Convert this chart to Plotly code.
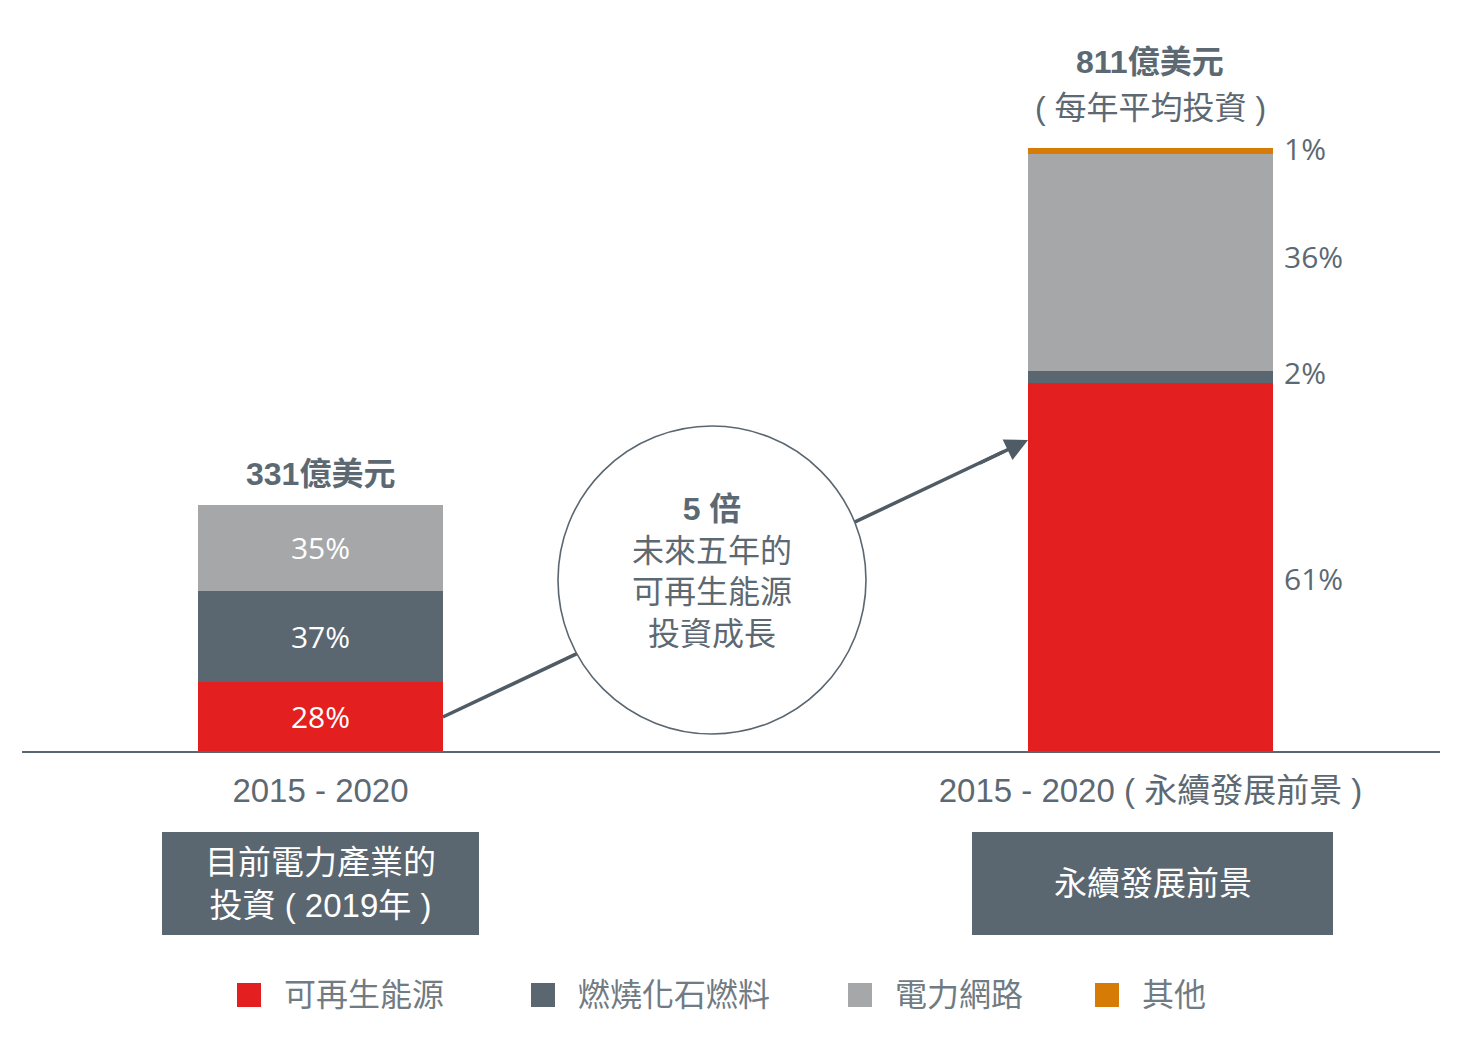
import plotly.graph_objects as go

# ---------------- data ----------------
periods = ["2015 - 2020", "2015 - 2020 ( 永續發展前景 )"]
totals = [331, 811]  # 億美元
categories = ["可再生能源", "燃燒化石燃料", "電力網路", "其他"]
renewable_pct = [28, 61]
fossil_pct = [37, 2]
grid_pct = [35, 36]
other_pct = [0, 1]
box_labels = ["目前電力產業的<br>投資 ( 2019年 )", "永續發展前景"]
total_titles = ["331億美元", "811億美元"]
total_subtitles = ["", "( 每年平均投資 )"]
circle_text = "<b>5 倍</b><br>未來五年的<br>可再生能源<br>投資成長"

colors = ["#e3201f", "#5a6670", "#a6a7a9", "#d57b06"]
shares = [renewable_pct, fossil_pct, grid_pct, other_pct]

# ---------------- style / layout ----------------
W, H = 1466, 1059
OFF = 8                      # page body margin
PLOT_L, PLOT_R, PLOT_T, PLOT_B = 22, 1440, 8, 751   # page pixels
ML = PLOT_L - OFF
MR = W - (PLOT_R - OFF)
MT = PLOT_T - OFF
MB = H - (PLOT_B - OFF)
PLOT_W = PLOT_R - PLOT_L
PLOT_H = PLOT_B - PLOT_T
BAR_W = 0.295
XR = [-0.3596, 1.3488]
YR = [0, PLOT_H * 811 / 603]
TXT = "#5d6972"
CJK = "Noto Sans CJK TC"
SANS = f"Liberation Sans, Arial, {CJK}, sans-serif"
OPEN = f"Open Sans, {CJK}, sans-serif"
xpos = list(range(len(periods)))


def px(page_x):
    return (page_x - PLOT_L) / PLOT_W


def py(page_y):
    return (PLOT_B - page_y) / PLOT_H


fig = go.Figure()
for ci, (name, pct, col) in enumerate(zip(categories, shares, colors)):
    vals = [t * p / 100 for t, p in zip(totals, pct)]
    txt = [f"{p}%" if i == 0 and p > 0 else "" for i, p in enumerate(pct)]
    fig.add_trace(go.Bar(
        x=xpos, y=vals, name=name, width=BAR_W,
        marker=dict(color=col, line=dict(width=0)),
        text=txt, textposition="inside", insidetextanchor="middle",
        textfont=dict(family=OPEN, size=30, color="white"),
        showlegend=False, hoverinfo="skip"))

annotations = []
shapes = []

# labels to the right of the second bar
label_yshift = [-11, 5, 6, 3]
cum = 0
for k, pct in enumerate(shares):
    v = totals[1] * pct[1] / 100
    if pct[1] > 0:
        annotations.append(dict(x=1 + BAR_W / 2, y=cum + v / 2, xref="x", yref="y",
                                text=f"{pct[1]}%", showarrow=False, xanchor="left",
                                xshift=9, yshift=label_yshift[k],
                                font=dict(family=OPEN, size=30, color=TXT)))
    cum += v

# total labels above bars
title_shift = [31, 86]
sub_shift = [0, 40]
for i, t in enumerate(totals):
    annotations.append(dict(x=xpos[i], y=t, xref="x", yref="y", text=f"<b>{total_titles[i]}</b>",
                            showarrow=False, xanchor="center", yanchor="middle",
                            yshift=title_shift[i],
                            font=dict(family=SANS, size=32, color=TXT)))
    if total_subtitles[i]:
        annotations.append(dict(x=xpos[i], y=t, xref="x", yref="y", text=total_subtitles[i],
                                showarrow=False, xanchor="center", yanchor="middle",
                                yshift=sub_shift[i],
                                font=dict(family=SANS, size=32, color=TXT)))

# arrow line (behind circle)
x_start, y_start = BAR_W / 2, 45.7
x_end, y_end = 1 - BAR_W / 2, 418.3
slope = (y_end - y_start) / (x_end - x_start)
shapes.append(dict(type="line", xref="x", yref="y", x0=x_start, y0=y_start,
                   x1=x_end - 0.03, y1=y_end - 0.03 * slope,
                   line=dict(color="#4f5b65", width=3.5), layer="above"))
# circle
cx, cy = 0.4717, 230
shapes.append(dict(type="circle", xref="x", yref="y", xsizemode="pixel", ysizemode="pixel",
                   xanchor=cx, yanchor=cy, x0=-154, x1=154, y0=-154, y1=154,
                   fillcolor="white", line=dict(color="#5a6670", width=1.6), layer="above"))
annotations.append(dict(x=cx, y=cy, xref="x", yref="y", text=circle_text, showarrow=False,
                        xanchor="center", yshift=8, font=dict(family=SANS, size=32, color=TXT)))
# arrowhead
annotations.append(dict(x=x_end, y=y_end, xref="x", yref="y", text="", showarrow=True,
                        ax=-50, ay=24, arrowhead=2, arrowsize=1.3, arrowwidth=3.5,
                        arrowcolor="#4f5b65", standoff=0))

# boxes under the axis
box_px = [(162, 479), (972, 1333)]
for i in range(2):
    shapes.append(dict(type="rect", xref="paper", yref="paper", x0=px(box_px[i][0]),
                       x1=px(box_px[i][1]), y0=py(935), y1=py(832),
                       fillcolor="#5a6670", line=dict(width=0)))
    annotations.append(dict(x=px((box_px[i][0] + box_px[i][1]) / 2), y=py((832 + 935) / 2),
                            xref="paper", yref="paper",
                            text=box_labels[i], showarrow=False,
                            xanchor="center", yanchor="middle",
                            font=dict(family=SANS, size=33, color="white")))

# manual legend
leg_sq_px = [237, 531, 848, 1095]
leg_y_px = 995
for i, (name, col) in enumerate(zip(categories, colors)):
    shapes.append(dict(type="rect", xref="paper", yref="paper",
                       x0=px(leg_sq_px[i]), x1=px(leg_sq_px[i] + 24),
                       y0=py(leg_y_px + 12), y1=py(leg_y_px - 12),
                       fillcolor=col, line=dict(width=0)))
    annotations.append(dict(x=px(leg_sq_px[i] + 45), y=py(leg_y_px),
                            xref="paper", yref="paper", text=name, showarrow=False,
                            xanchor="left", yanchor="middle",
                            font=dict(family=SANS, size=32, color="#707b83")))

fig.update_layout(
    width=W, height=H, barmode="stack",
    margin=dict(l=ML, r=MR, t=MT, b=MB, pad=0),
    paper_bgcolor="white", plot_bgcolor="white",
    xaxis=dict(range=XR, tickvals=xpos, ticktext=periods, showgrid=False, zeroline=False,
               showline=True, linecolor="#5a6670", linewidth=2, ticks="",
               tickfont=dict(family=SANS, size=33, color=TXT), ticklabelstandoff=9),
    yaxis=dict(range=YR, visible=False, showgrid=False, zeroline=False),
    shapes=shapes, annotations=annotations, showlegend=False,
    uniformtext=dict(minsize=10, mode="show"),
)
fig.write_html("out.html")
